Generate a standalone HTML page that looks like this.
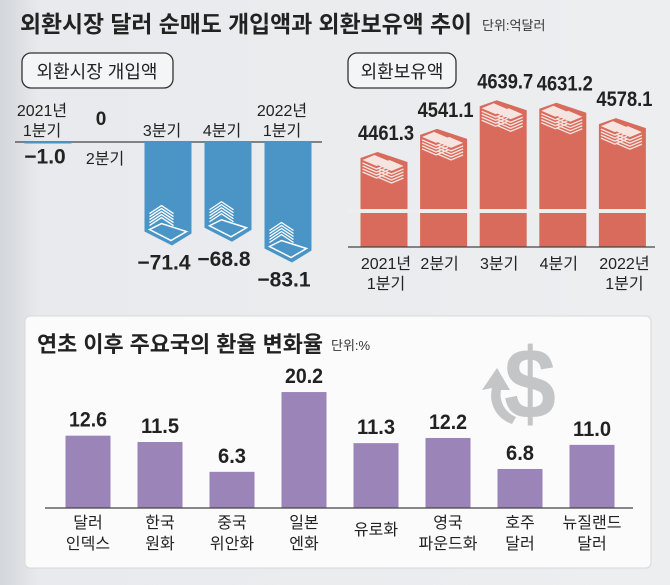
<!DOCTYPE html>
<html><head><meta charset="utf-8">
<style>
html,body{margin:0;padding:0;}
body{width:670px;height:580px;overflow:hidden;background:linear-gradient(90deg,#d3d6da 0px,#e8eaed 40px,#eceef0 100%);font-family:"Liberation Sans","Noto Sans CJK KR",sans-serif;}
svg text{font-family:"Liberation Sans","Noto Sans CJK KR",sans-serif;}
.n{font-family:"Liberation Sans","Noto Sans CJK KR",sans-serif;font-weight:bold;fill:#222;}
</style></head><body>
<svg id="root" width="670" height="580" viewBox="0 0 670 580" xmlns="http://www.w3.org/2000/svg">
<text x="20" y="32" font-size="23" font-weight="bold" fill="#222" textLength="452" lengthAdjust="spacingAndGlyphs">외환시장 달러 순매도 개입액과 외환보유액 추이</text>
<text x="482" y="30" font-size="13" fill="#333">단위:억달러</text>

<rect x="22" y="53" width="151" height="35" rx="9" fill="#f4f5f6" stroke="#333" stroke-width="1.3"/>
<text x="97" y="78" font-size="18" fill="#222" text-anchor="middle">외환시장 개입액</text>

<rect x="348" y="53" width="108" height="35" rx="9" fill="#f4f5f6" stroke="#333" stroke-width="1.3"/>
<text x="402" y="78" font-size="18" fill="#222" text-anchor="middle">외환보유액</text>

<g id="left"></g>
<g id="right"></g>

<rect x="25" y="316" width="626" height="252" rx="5" fill="#fbfbfc" stroke="#d8d8d8"/>
<text x="37" y="352" font-size="22" font-weight="bold" fill="#222" textLength="286" lengthAdjust="spacingAndGlyphs">연초 이후 주요국의 환율 변화율</text>
<text x="331" y="350" font-size="13" fill="#333">단위:%</text>
<g>
<text x="530" y="418" font-size="100" font-weight="bold" fill="#c4c5c7" text-anchor="middle" textLength="52" lengthAdjust="spacingAndGlyphs">$</text>
<path d="M512 424 A30 30 0 0 1 492 388 L482 390 L497 368 L510 390 L501 390 A24 24 0 0 0 516 417 Z" fill="#c4c5c7"/>
</g>
<g id="bottom"></g>
</svg>
<script>
const NS="http://www.w3.org/2000/svg";
function mk(tag,attrs,parent,txt){const e=document.createElementNS(NS,tag);for(const k in attrs)e.setAttribute(k,attrs[k]);if(txt!==undefined)e.textContent=txt;parent.appendChild(e);return e;}

// ---- left chart: intervention ----
const leftCats=[["2021년","1분기"],["2분기"],["3분기"],["4분기"],["2022년","1분기"]];
const leftVals=[-1.0,0,-71.4,-68.8,-83.1];
const leftLabels=["−1.0","0","−71.4","−68.8","−83.1"];
// ---- right chart: reserves ----
const rightCats=[["2021년","1분기"],["2분기"],["3분기"],["4분기"],["2022년","1분기"]];
const rightVals=[4461.3,4541.1,4639.7,4631.2,4578.1];
// ---- bottom chart: fx change ----
const fxCats=[["달러","인덱스"],["한국","원화"],["중국","위안화"],["일본","엔화"],["유로화"],["영국","파운드화"],["호주","달러"],["뉴질랜드","달러"]];
const fxVals=[12.6,11.5,6.3,20.2,11.3,12.2,6.8,11.0];

const L=document.getElementById('left');
const lBase=142;
const lx=i=>[48,105,168,228,288][i];
const ly=v=>lBase-v*1.45;
const lw=47;
mk('line',{x1:15,x2:322,y1:lBase,y2:lBase,stroke:'#444','stroke-width':1.2,},L);
leftVals.forEach((v,i)=>{
  const cx=lx(i),x0=cx-lw/2,x1=cx+lw/2,bot=ly(v);
  if(v<0){
    let p;
    if(bot-lBase>30){p=`${x0},${lBase} ${x1},${lBase} ${x1},${bot-12} ${cx+4},${bot} ${x0},${bot-14}`;}
    else{p=`${x0},${lBase} ${x1},${lBase} ${x1},${bot} ${x0},${bot}`;}
    const b=mk('polygon',{points:p,fill:'#4a95c6'},L);
    
    
    if(bot-lBase>30){
      const g=mk('g',{},L);
      
      
      for(let k=0;k<5;k++){mk('polyline',{points:`${x0+5},${bot-20-k*3} ${x0+17},${bot-28-k*3} ${x0+29},${bot-20-k*3}`,fill:'none',stroke:'#fff','stroke-width':1.3},g);}
      mk('polygon',{points:`${x0+5},${bot-16} ${x0+17},${bot-22} ${x1-5},${bot-14} ${cx+3},${bot-5}`,fill:'none',stroke:'#fff','stroke-width':1.5},g);
    }
  }
  const lab=mk('text',{x:i===0?cx-3:cx-4,y:(i===1?125:(v<0?bot+(bot-lBase>30?24:20):125)),'font-size':(i===1?19:21),class:'n','text-anchor':'middle'},L,leftLabels[i]);
  
  
  const c=leftCats[i];
  if(i===1){
    const t=mk('text',{x:cx,y:164,'font-size':16,fill:'#222','text-anchor':'middle'},L,c[0]);
    
  } else {
    c.forEach((s,j)=>{const t=mk('text',{x:cx-6,y:136-(c.length-1-j)*20,'font-size':16,fill:'#222','text-anchor':'middle'},L,s);
      });
  }
});

const R=document.getElementById('right');
const rBase=247;
const rx=i=>384+i*59.6;
const ry=v=>152-(v-4461.3)*0.29;
const rw=47;
rightVals.forEach((v,i)=>{
  const cx=rx(i),x0=cx-rw/2,x1=cx+rw/2,t=ry(v);
  const b=mk('polygon',{points:`${x0},${rBase} ${x0},${t+6} ${x0+17},${t} ${x1},${t+10} ${x1},${rBase}`,fill:'#d96b5c'},R);
  
  
  const g=mk('g',{},R);
  
  
  [[x0+2,t+8],[x0+17,t+13]].forEach(([sx,sy])=>{
    mk('polygon',{points:`${sx},${sy} ${sx+12},${sy-5} ${sx+26},${sy+1} ${sx+14},${sy+6}`,fill:'#f6e4e0'},g);
    for(let k=1;k<5;k++)mk('polyline',{points:`${sx},${sy+k*3} ${sx+14},${sy+6+k*3} ${sx+26},${sy+1+k*3}`,fill:'none',stroke:'#f6e4e0','stroke-width':1.3},g);
  });
  const lab=mk('text',{x:cx+2,y:t-12,'font-size':21,class:'n','text-anchor':'middle',textLength:56,lengthAdjust:'spacingAndGlyphs'},R,v.toFixed(1));
  
  
  rightCats[i].forEach((s,j)=>{const tx=mk('text',{x:cx+(rightCats[i].length>1?2:-4),y:269+j*20,'font-size':16,fill:'#222','text-anchor':'middle'},R,s);
    });
});
const brk=mk('rect',{x:348,y:209,width:305,height:4,fill:'#eceef0'},R);

const rl=mk('line',{x1:348,x2:655,y1:rBase,y2:rBase,stroke:'#444','stroke-width':1.2},R);


const B=document.getElementById('bottom');
const bBase=508;
const bx=i=>88+i*72;
const by=v=>bBase-v*5.74;
const bw=45;
fxVals.forEach((v,i)=>{
  const cx=bx(i);
  const r=mk('rect',{x:cx-bw/2,y:by(v),width:bw,height:bBase-by(v),fill:'#9b84b8'},B);
  
  
  const t=mk('text',{x:cx,y:by(v)-9,'font-size':21,class:'n','text-anchor':'middle',textLength:v>=10?38:28,lengthAdjust:'spacingAndGlyphs'},B,v.toFixed(1));
  
  
  const c=fxCats[i];
  c.forEach((s,j)=>{const tx=mk('text',{x:cx,y:(c.length===1?535:528+j*21),'font-size':16,fill:'#222','text-anchor':'middle'},B,s);
    });
});
const bl=mk('line',{x1:45,x2:633,y1:bBase,y2:bBase,stroke:'#444','stroke-width':1.2},B);

</script>
</body></html>
